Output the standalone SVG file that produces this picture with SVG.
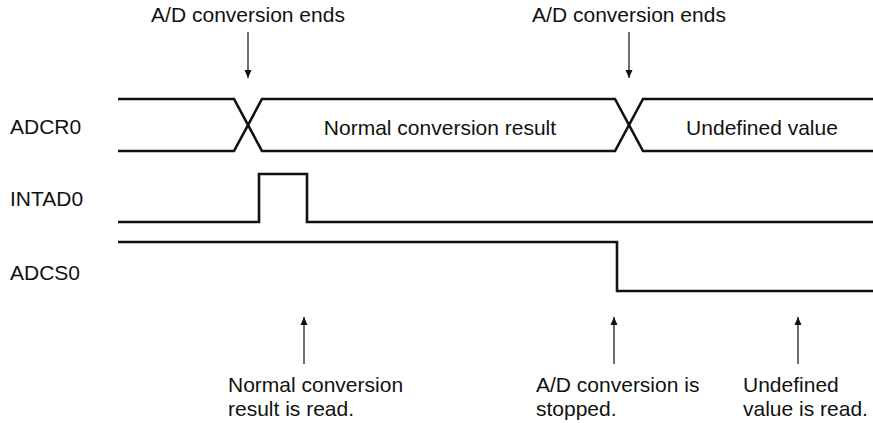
<svg xmlns="http://www.w3.org/2000/svg" width="873" height="423" viewBox="0 0 873 423">
<style>
text{font-family:"Liberation Sans",Arial,sans-serif;font-size:21px;fill:#111}
.sig{fill:none;stroke:#111;stroke-width:2.6;stroke-linejoin:miter}
.arr{fill:none;stroke:#222;stroke-width:1.3}
</style>
<defs>
<marker id="ah" viewBox="0 0 8 14" refX="8" refY="7" markerWidth="8" markerHeight="14" markerUnits="userSpaceOnUse" orient="auto">
<path d="M0,3.5 L8,7 L0,10.5 Z" fill="#111"/>
</marker>
</defs>
<g id="labels">
<text x="10" y="134">ADCR0</text>
<text x="10" y="206">INTAD0</text>
<text x="10" y="280">ADCS0</text>
</g>
<g id="ADCR0">
<path class="sig" d="M118,99 H234 L262,151 H615 L643,99 H873"/>
<path class="sig" d="M118,151 H234 L262,99 H615 L643,151 H873"/>
<text x="440" y="135" text-anchor="middle">Normal conversion result</text>
<text x="762" y="135" text-anchor="middle">Undefined value</text>
</g>
<g id="INTAD0">
<path class="sig" d="M118,222 H259 V174 H307 V222 H873"/>
</g>
<g id="ADCS0">
<path class="sig" d="M118,242 H617 V291 H873"/>
</g>
<g id="connectors">
<line class="arr" x1="248" y1="32" x2="248" y2="78" marker-end="url(#ah)"/>
<line class="arr" x1="629" y1="32" x2="629" y2="78" marker-end="url(#ah)"/>
<line class="arr" x1="304" y1="364" x2="304" y2="317" marker-end="url(#ah)"/>
<line class="arr" x1="614" y1="364" x2="614" y2="317" marker-end="url(#ah)"/>
<line class="arr" x1="798" y1="364" x2="798" y2="317" marker-end="url(#ah)"/>
</g>
<g id="notes">
<text x="248" y="22" text-anchor="middle">A/D conversion ends</text>
<text x="629" y="22" text-anchor="middle">A/D conversion ends</text>
<text x="228" y="392">Normal conversion</text>
<text x="228" y="416">result is read.</text>
<text x="536" y="392">A/D conversion is</text>
<text x="536" y="416">stopped.</text>
<text x="743" y="392">Undefined</text>
<text x="743" y="416">value is read.</text>
</g>
</svg>
